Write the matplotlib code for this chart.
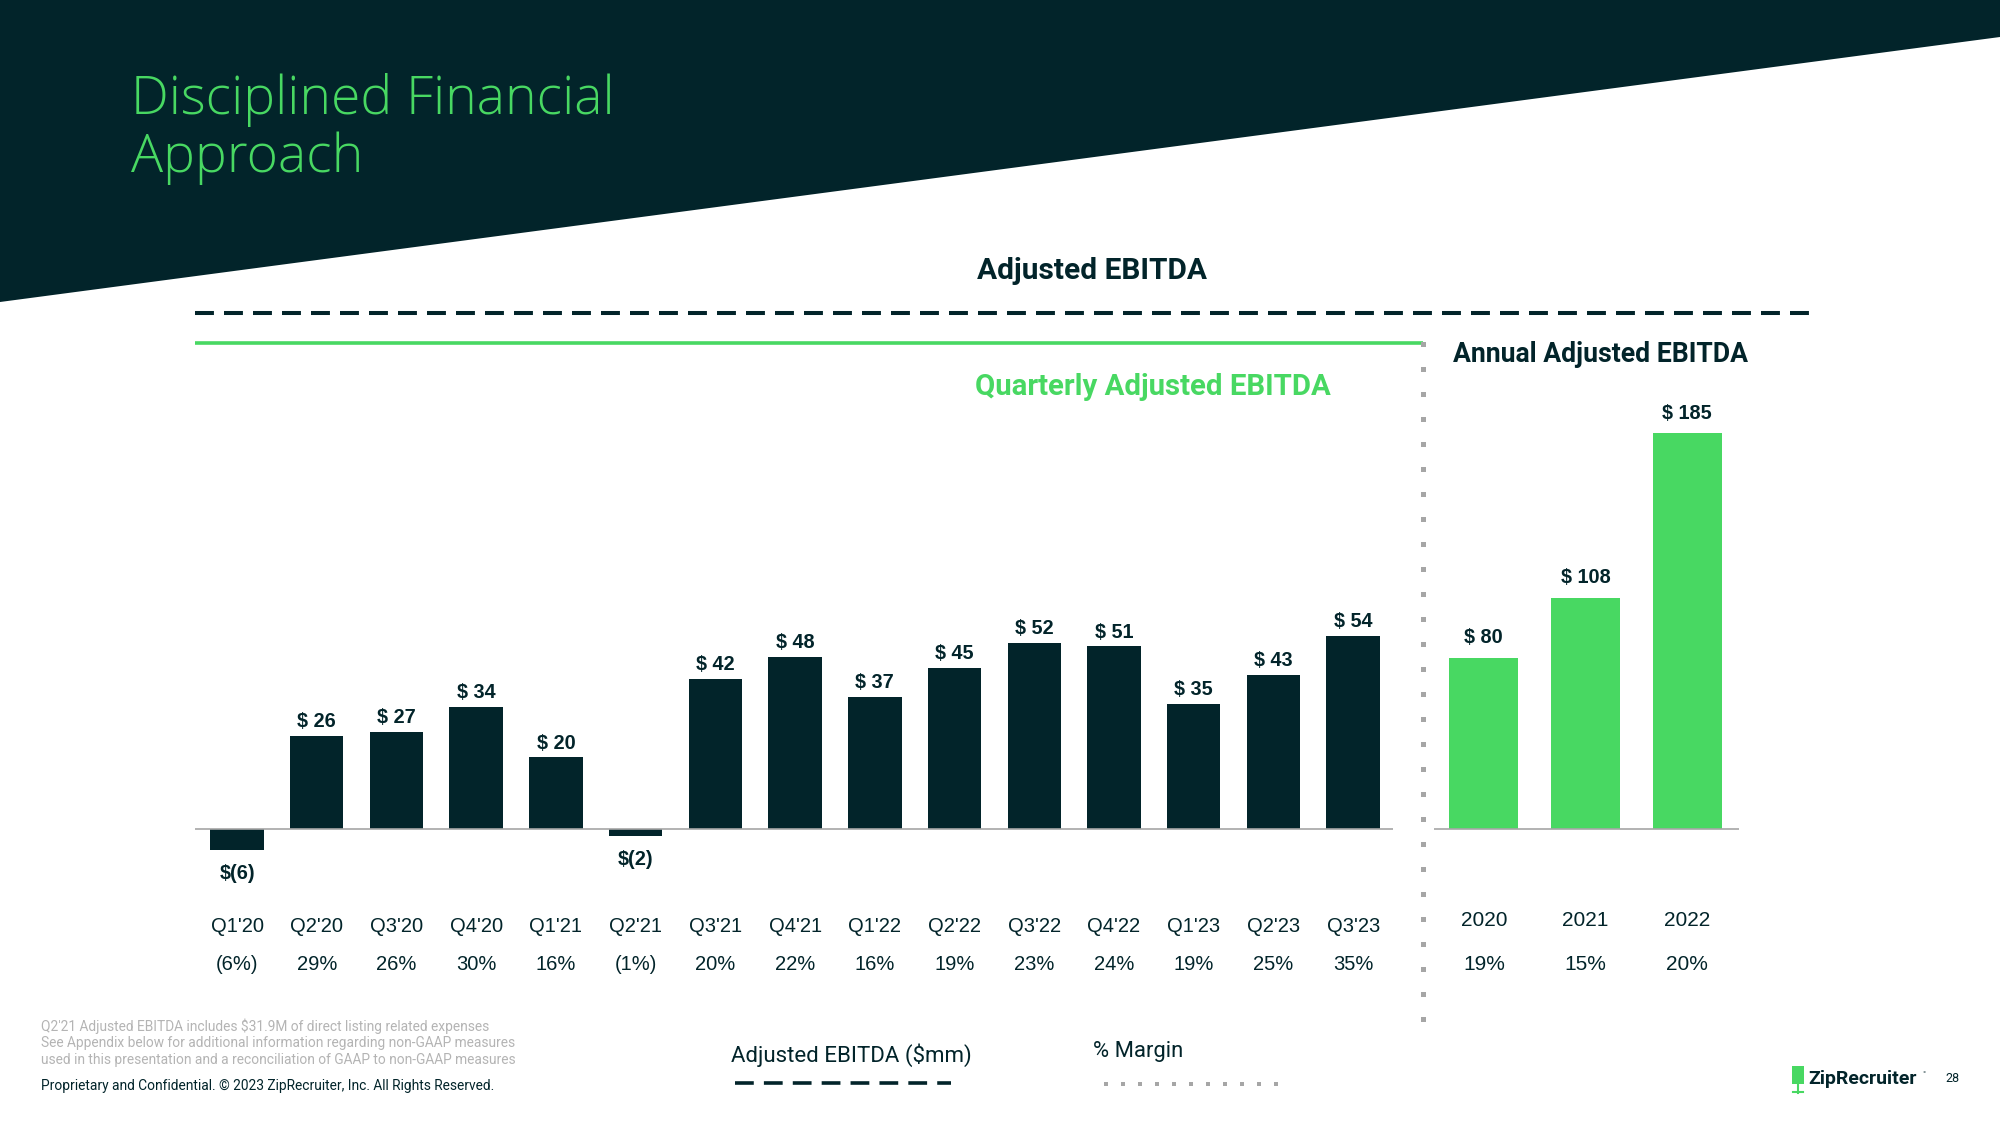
import matplotlib
matplotlib.use("Agg")
import matplotlib.pyplot as plt
from matplotlib.transforms import blended_transform_factory

# data
quarters = ["Q1'20", "Q2'20", "Q3'20", "Q4'20", "Q1'21", "Q2'21", "Q3'21", "Q4'21",
            "Q1'22", "Q2'22", "Q3'22", "Q4'22", "Q1'23", "Q2'23", "Q3'23"]
quarterly_ebitda = [-6, 26, 27, 34, 20, -2, 42, 48, 37, 45, 52, 51, 35, 43, 54]
quarterly_margin = ["(6%)", "29%", "26%", "30%", "16%", "(1%)", "20%", "22%",
                    "16%", "19%", "23%", "24%", "19%", "25%", "35%"]
years = ["2020", "2021", "2022"]
annual_ebitda = [80, 108, 185]
annual_margin = ["19%", "15%", "20%"]

footnotes = [
    "Q2'21 Adjusted EBITDA includes $31.9M of direct listing related expenses",
    "See Appendix below for additional information regarding non-GAAP measures",
    "used in this presentation and a reconciliation of GAAP to non-GAAP measures",
]

DARK = "#02242a"
GREEN = "#48d862"
GRAY = "#a6a6a6"

W, H = 2000, 1125
fig = plt.figure(figsize=(20, 11.25), dpi=100)
fig.patch.set_facecolor("white")

# background axes in pixel units (origin top-left)
bg = fig.add_axes([0, 0, 1, 1])
bg.set_xlim(0, W)
bg.set_ylim(H, 0)
bg.axis("off")


def px_axes(left, top, right, bottom):
    return fig.add_axes([left / W, 1 - bottom / H, (right - left) / W, (bottom - top) / H])


# dark header wedge
bg.fill([0, W, W, 0], [0, 0, 37, 302], color=DARK, zorder=0, lw=0)

bg.text(131, 100, "Disciplined Financial", color=GREEN, fontsize=38.5, family="Open Sans",
        fontweight="light", va="center", ha="left")
bg.text(131, 158, "Approach", color=GREEN, fontsize=38.5, family="Open Sans",
        fontweight="light", va="center", ha="left")

# headings and separators
bg.text(1092, 271, "Adjusted EBITDA", color=DARK, fontsize=21.5, family="Roboto",
        fontweight="bold", ha="center", va="center")
bg.plot([195, 1811], [313, 313], color=DARK, lw=2.9, ls=(0, (4.7, 2.5)),
        solid_capstyle="butt", dash_capstyle="butt")
bg.plot([195, 1423], [343, 343], color=GREEN, lw=2.6, solid_capstyle="butt")
bg.plot([1423] * 28, [344 + 25 * k for k in range(28)], ls="none", marker="s",
        ms=3.6, color=GRAY, mew=0)
bg.text(1153, 387, "Quarterly Adjusted EBITDA", color=GREEN, fontsize=21.2,
        family="Roboto", fontweight="bold", ha="center", va="center")
bg.text(1453, 354, "Annual Adjusted EBITDA", color=DARK, fontsize=19.2,
        family="Roboto", fontweight="bold", ha="left", va="center")


def dollar(v):
    return f"$({abs(v)})" if v < 0 else f"$ {v}"


# quarterly bars
axq = px_axes(195, 829 - 60 * 3.58, 1393, 829 + 20 * 3.58)
xq = list(range(len(quarters)))
axq.bar(xq, quarterly_ebitda, width=0.67, color=DARK, zorder=2)
axq.set_xlim(-0.527, 14.5)
axq.set_ylim(-20, 60)
axq.axhline(0, color=GRAY, lw=1.2, zorder=3)
axq.axis("off")
for x, v in zip(xq, quarterly_ebitda):
    if v >= 0:
        axq.annotate(dollar(v), (x, v), xytext=(0, 3.5), textcoords="offset points",
                     ha="center", va="bottom", fontsize=14.3, fontweight="bold",
                     family="Liberation Sans", color=DARK)
    else:
        axq.annotate(dollar(v), (x, v), xytext=(0, -10), textcoords="offset points",
                     ha="center", va="top", fontsize=14.3, fontweight="bold",
                     family="Liberation Sans", color=DARK)
tq = blended_transform_factory(axq.transData, bg.transData)
for x, q, m in zip(xq, quarters, quarterly_margin):
    axq.text(x, 927, q, transform=tq, ha="center", va="center", fontsize=14.5,
             family="Liberation Sans", color=DARK)
    axq.text(x, 965, m, transform=tq, ha="center", va="center", fontsize=14.5,
             family="Liberation Sans", color=DARK)

# annual bars
axa = px_axes(1434, 829 - 200 * 2.14, 1739, 829 + 20 * 2.14)
xa = list(range(len(years)))
axa.bar(xa, annual_ebitda, width=0.68, color=GREEN, zorder=2)
axa.set_xlim(-0.49, 2.51)
axa.set_ylim(-20, 200)
axa.axhline(0, color=GRAY, lw=1.2, zorder=3)
axa.axis("off")
for x, v in zip(xa, annual_ebitda):
    axa.annotate(dollar(v), (x, v), xytext=(0, 7.5), textcoords="offset points",
                 ha="center", va="bottom", fontsize=14.3, fontweight="bold",
                 family="Liberation Sans", color=DARK)
ta = blended_transform_factory(axa.transData, bg.transData)
for x, y, m in zip(xa, years, annual_margin):
    axa.text(x, 921, y, transform=ta, ha="center", va="center", fontsize=15,
             family="Liberation Sans", color=DARK)
    axa.text(x, 965, m, transform=ta, ha="center", va="center", fontsize=15,
             family="Liberation Sans", color=DARK)

# legend
bg.text(851, 1055, "Adjusted EBITDA ($mm)", color=DARK, fontsize=16, family="Roboto",
        ha="center", va="center")
bg.plot([735, 951], [1083, 1083], color=DARK, lw=2.6, ls=(0, (5.2, 2.8)),
        dash_capstyle="butt")
bg.text(1093, 1051, "% Margin", color=DARK, fontsize=15.8, family="Roboto",
        ha="left", va="center")
bg.plot([1106 + 17 * k for k in range(11)], [1084] * 11, ls="none", marker="s",
        ms=2.4, color=GRAY, mew=0)

# footer
for i, line in enumerate(footnotes):
    bg.text(41, 1026 + 16.8 * i, line, color="#b4b4b4", fontsize=9.9, family="Roboto",
            ha="left", va="center")
bg.text(41, 1086, "Proprietary and Confidential. \u00a9 2023 ZipRecruiter, Inc. All Rights Reserved.",
        color=DARK, fontsize=9.9, family="Roboto", ha="left", va="center")

# logo
bg.fill([1792, 1804, 1804, 1792], [1066, 1066, 1084, 1084], color=GREEN, lw=0)
bg.plot([1798, 1798], [1084, 1093], color=GREEN, lw=1.5)
bg.plot([1793, 1803], [1092, 1092], color=GREEN, lw=1.5)
bg.text(1808, 1079, "ZipRecruiter", color=DARK, fontsize=14, family="Roboto",
        fontweight="bold", ha="left", va="center")
bg.text(1922, 1074, "\u00b0", color=DARK, fontsize=6, family="Roboto", ha="left", va="center")
bg.text(1945, 1079, "28", color=DARK, fontsize=9, family="Roboto", ha="left", va="center")

fig.savefig("out.png", dpi=100, facecolor="white")
